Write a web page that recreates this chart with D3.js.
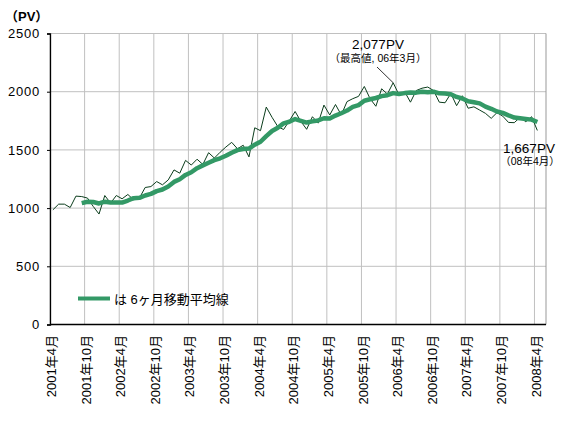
<!DOCTYPE html>
<html lang="ja">
<head>
<meta charset="UTF-8">
<title>PV推移</title>
<script src="https://d3js.org/d3.v7.min.js"></script>
<style>
    body { margin: 0; background: #fff; }
    svg text { font-family: "Liberation Sans", "Noto Sans CJK JP", sans-serif; fill: #000; }
</style>
</head>
<body>
<div id="chart"></div>
<script>
    // 月別PV (2001年4月〜2008年4月)
    const pv = [985, 1034, 1034, 1005, 1103, 1099, 1086, 1014, 949, 1108,
        1043, 1108, 1080, 1117, 1071, 1086, 1177, 1185, 1228, 1200,
        1242, 1328, 1300, 1410, 1370, 1420, 1375, 1476, 1430, 1480,
        1525, 1565, 1510, 1540, 1440, 1690, 1665, 1868, 1780, 1700,
        1675, 1750, 1830, 1745, 1677, 1785, 1730, 1885, 1800, 1890,
        1800, 1915, 1940, 1960, 2045, 1940, 1875, 2025, 1980, 2077,
        1975, 2000, 1910, 2010, 2030, 2040, 2010, 1910, 1905, 1985,
        1880, 1965, 1858, 1870, 1842, 1814, 1771, 1820, 1790, 1736,
        1734, 1780, 1742, 1785, 1667];

    // 6ヶ月移動平均 (2001年9月から)
    const ma = [null, null, null, null, null,
        1043, 1055, 1052, 1040, 1055, 1048, 1048, 1048, 1065, 1085,
        1088, 1108, 1122, 1146, 1160, 1186, 1225, 1248, 1285, 1308,
        1343, 1367, 1390, 1412, 1428, 1450, 1476, 1498, 1508, 1512,
        1545, 1570, 1618, 1662, 1690, 1728, 1742, 1765, 1750, 1735,
        1745, 1753, 1772, 1770, 1795, 1815, 1838, 1870, 1885, 1922,
        1935, 1946, 1962, 1970, 1988, 1980, 1988, 1994, 1992, 2000,
        1995, 2000, 1986, 1984, 1978, 1955, 1942, 1918, 1910, 1900,
        1872, 1853, 1830, 1818, 1797, 1778, 1772, 1766, 1760, 1740];

    const tickLabels = ["2001年4月", "2001年10月", "2002年4月", "2002年10月", "2003年4月",
        "2003年10月", "2004年4月", "2004年10月", "2005年4月", "2005年10月",
        "2006年4月", "2006年10月", "2007年4月", "2007年10月", "2008年4月"];
    const yTicks = [0, 500, 1000, 1500, 2000, 2500];

    const svg = d3.select("#chart").append("svg")
        .attr("width", 567)
        .attr("height", 424);

    // 月は区間の中央にプロット (86区間)
    const x = d3.scaleLinear().domain([0, 86]).range([50, 546]);
    const y = d3.scaleLinear().domain([0, 2500]).range([324.5, 33.5]);

    // グリッド
    svg.append("g").selectAll("line").data(tickLabels).join("line")
        .attr("x1", (d, i) => x(i * 6)).attr("x2", (d, i) => x(i * 6))
        .attr("y1", y(2500)).attr("y2", y(0))
        .attr("stroke", "#c0c0c0").attr("stroke-width", 1);
    svg.append("g").selectAll("line").data(yTicks).join("line")
        .attr("x1", x(0)).attr("x2", x(86))
        .attr("y1", d => y(d)).attr("y2", d => y(d))
        .attr("stroke", "#c0c0c0").attr("stroke-width", 1);
    svg.append("line")
        .attr("x1", x(86)).attr("x2", x(86)).attr("y1", y(2500)).attr("y2", y(0))
        .attr("stroke", "#999");

    // 軸
    const yAxis = svg.append("g").attr("transform", `translate(${x(0)},0)`)
        .call(d3.axisLeft(y).tickValues(yTicks).tickFormat(d3.format("d"))
            .tickSize(3).tickPadding(7));
    yAxis.select(".domain").attr("stroke", "#000").attr("stroke-width", 1.3);
    yAxis.selectAll("text").attr("font-size", 13).attr("letter-spacing", "0.8px");

    svg.append("line")
        .attr("x1", x(0)).attr("x2", x(86)).attr("y1", y(0)).attr("y2", y(0))
        .attr("stroke", "#000").attr("stroke-width", 1.3);

    svg.append("g").selectAll("text").data(tickLabels).join("text")
        .attr("transform", (d, i) => `translate(${x(i * 6) + 1.5},335) rotate(-90)`)
        .attr("text-anchor", "end")
        .attr("dy", "0.35em")
        .attr("font-size", 13)
        .text(d => d);

    svg.append("text").attr("x", 5).attr("y", 21)
        .attr("font-size", 13).attr("font-weight", "bold")
        .text("（PV）");

    // 折れ線
    const line = d3.line()
        .defined(d => d != null)
        .x((d, i) => x(i + 0.5))
        .y(d => y(d));

    svg.append("path").datum(pv)
        .attr("fill", "none").attr("stroke", "#0b3d1c").attr("stroke-width", 1)
        .attr("d", line);

    svg.append("path").datum(ma)
        .attr("fill", "none").attr("stroke", "#339966").attr("stroke-width", 4.5)
        .attr("stroke-linejoin", "round")
        .attr("d", line);

    // 凡例
    svg.append("line")
        .attr("x1", 78).attr("x2", 110).attr("y1", 298.5).attr("y2", 298.5)
        .attr("stroke", "#339966").attr("stroke-width", 4);
    svg.append("text").attr("x", 114).attr("y", 299).attr("dy", "0.35em")
        .attr("font-size", 13)
        .text("は 6ヶ月移動平均線");

    // 注記
    const peak = d3.maxIndex(pv);
    svg.append("text").attr("x", 378).attr("y", 49)
        .attr("text-anchor", "middle").attr("font-size", 13.5)
        .text("2,077PV");
    svg.append("text").attr("x", 378).attr("y", 62)
        .attr("text-anchor", "middle").attr("font-size", 10.5)
        .text("（最高値, 06年3月）");
    svg.append("line")
        .attr("x1", 377).attr("y1", 67)
        .attr("x2", x(peak + 0.5)).attr("y2", y(pv[peak]))
        .attr("stroke", "#000").attr("stroke-width", 0.8);

    svg.append("text").attr("x", 529).attr("y", 153)
        .attr("text-anchor", "middle").attr("font-size", 13.5)
        .text("1,667PV");
    svg.append("text").attr("x", 530).attr("y", 165)
        .attr("text-anchor", "middle").attr("font-size", 10.5)
        .text("（08年4月）");
</script>
</body>
</html>
